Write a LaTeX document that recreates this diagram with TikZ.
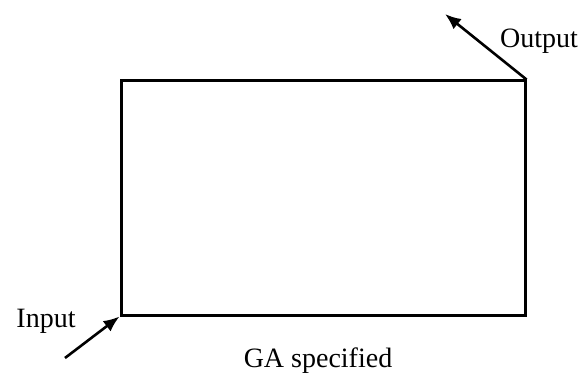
\documentclass[tikz,border=0pt]{standalone}
\usepackage{fontspec}
\setmainfont{Liberation Serif}
\usepackage{tikz}
\usetikzlibrary{arrows.meta, positioning}

\begin{document}
\begin{tikzpicture}[
  x=1pt, y=-1pt,
  block/.style={draw, line width=3pt, minimum width=404pt, minimum height=234pt, inner sep=0pt},
  label/.style={inner sep=0pt, font=\fontsize{28}{32}\selectfont},
  arrow/.style={-{Latex[length=16pt, width=13pt]}, line width=2.6pt},
]
\useasboundingbox (0,0) rectangle (584,374);

% GA block
\node[block] (ga) at (323,198) {};

% Ends of the two arrows
\coordinate (in) at (65,358);
\coordinate (out) at (445,14);

% Labels
\node[label, anchor=base] (inlabel) at (46,327) {Input};
\node[label, anchor=base] (outlabel) at (539,48) {Output};
\node[label, anchor=base] (galabel) at (318,367) {GA specified};

% Arrows
\draw[arrow] (in) -- (ga.south west);
\draw[arrow] (ga.north east) -- (out);

\end{tikzpicture}
\end{document}
